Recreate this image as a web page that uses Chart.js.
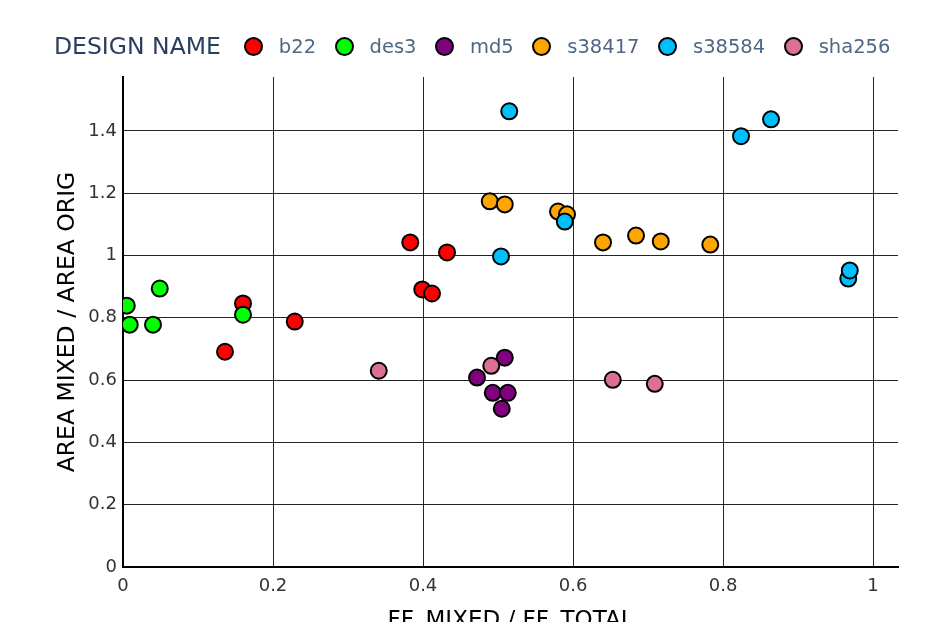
<html>
<head>
  <script src="https://cdn.jsdelivr.net/npm/chart.js"></script>
  <style>
    body { margin: 0; overflow: hidden; background: #fff; font-family: "DejaVu Sans", Verdana, sans-serif; }
    #wrap { position: relative; width: 938px; height: 640px; }
    #legend { position: absolute; left: 54px; top: 33px; display: flex; align-items: center; height: 26px; }
    #legend .title { font-size: 23.5px; color: #2a3f5f; margin-right: 23px; }
    #legend .dot { width: 15px; height: 15px; border: 2px solid #000; border-radius: 50%; margin-right: 16px; }
    #legend .lab { font-size: 19.5px; color: #506784; margin-right: 18.5px; }
  </style>
  <script>
    const designs = ['b22', 'des3', 'md5', 's38417', 's38584', 'sha256'];
    const colors = ['#ff0000', '#00ff00', '#800080', '#ffa500', '#00bfff', '#db7093'];

    // FF_MIXED / FF_TOTAL (x) and AREA MIXED / AREA ORIG (y) per design
    const b22X = [0.383, 0.432, 0.399, 0.412, 0.160, 0.229, 0.136];
    const b22Y = [1.042, 1.010, 0.891, 0.878, 0.846, 0.788, 0.691];
    const des3X = [0.005, 0.009, 0.040, 0.049, 0.160];
    const des3Y = [0.839, 0.778, 0.778, 0.894, 0.810];
    const md5X = [0.509, 0.472, 0.493, 0.513, 0.505];
    const md5Y = [0.672, 0.608, 0.559, 0.559, 0.508];
    const s38417X = [0.489, 0.509, 0.580, 0.592, 0.640, 0.684, 0.717, 0.783];
    const s38417Y = [1.174, 1.164, 1.141, 1.132, 1.042, 1.064, 1.045, 1.035];
    const s38584X = [0.515, 0.504, 0.589, 0.824, 0.864, 0.967, 0.969];
    const s38584Y = [1.463, 0.997, 1.109, 1.383, 1.437, 0.926, 0.952];
    const sha256X = [0.341, 0.491, 0.653, 0.709];
    const sha256Y = [0.630, 0.646, 0.601, 0.588];

    const xs = [b22X, des3X, md5X, s38417X, s38584X, sha256X];
    const ys = [b22Y, des3Y, md5Y, s38417Y, s38584Y, sha256Y];

    function pts(i) {
      return xs[i].map((x, k) => ({ x: x, y: ys[i][k] }));
    }

    // plotly style: 1 instead of 1.0
    function fmt(v) {
      return String(Number(v.toFixed(2)));
    }

    function draw() {
      const legend = document.getElementById('legend');
      designs.forEach((d, i) => {
        const dot = document.createElement('span');
        dot.className = 'dot';
        dot.style.background = colors[i];
        const lab = document.createElement('span');
        lab.className = 'lab';
        lab.textContent = d;
        legend.appendChild(dot);
        legend.appendChild(lab);
      });

      const datasets = designs.map((d, i) => ({
        label: d,
        data: pts(i),
        backgroundColor: colors[i],
        borderColor: '#000',
        borderWidth: 2,
        pointRadius: 8,
        order: designs.length - i
      }));

      new Chart(document.getElementById('myChart'), {
        type: 'scatter',
        data: { datasets: datasets },
        options: {
          responsive: true,
          maintainAspectRatio: false,
          animation: false,
          layout: { padding: { left: 54, right: 40, top: 77, bottom: 0 } },
          plugins: { legend: { display: false }, tooltip: { enabled: false } },
          scales: {
            x: {
              type: 'linear',
              min: 0,
              max: 1.0333,
              afterFit: s => { s.height = 73; },
              ticks: { stepSize: 0.2, includeBounds: false, padding: 9, color: '#333',
                       callback: v => fmt(v),
                       font: { family: 'DejaVu Sans', size: 18 } },
              grid: { color: 'rgba(0,0,0,0.85)', lineWidth: 1, drawTicks: false },
              border: { color: '#000', width: 2 },
              title: { display: true, text: 'FF_MIXED / FF_TOTAL', color: '#000',
                       padding: { top: 0, bottom: 5 },
                       font: { family: 'DejaVu Sans', size: 23 } }
            },
            y: {
              type: 'linear',
              min: 0,
              max: 1.573,
              afterFit: s => { s.width = 69; },
              ticks: { stepSize: 0.2, includeBounds: false, padding: 6, color: '#333',
                       callback: v => fmt(v),
                       font: { family: 'DejaVu Sans', size: 18 } },
              grid: { color: 'rgba(0,0,0,0.85)', lineWidth: 1, drawTicks: false },
              border: { color: '#000', width: 2 },
              title: { display: true, text: 'AREA MIXED / AREA ORIG', color: '#000',
                       padding: 0,
                       font: { family: 'DejaVu Sans', size: 23.5 } }
            }
          }
        }
      });
    }
  </script>
</head>

<body onload="draw()">
<div id="wrap">
  <div id="legend"><span class="title">DESIGN NAME</span></div>
  <canvas id="myChart"></canvas>
</div>
</body>
</html>
